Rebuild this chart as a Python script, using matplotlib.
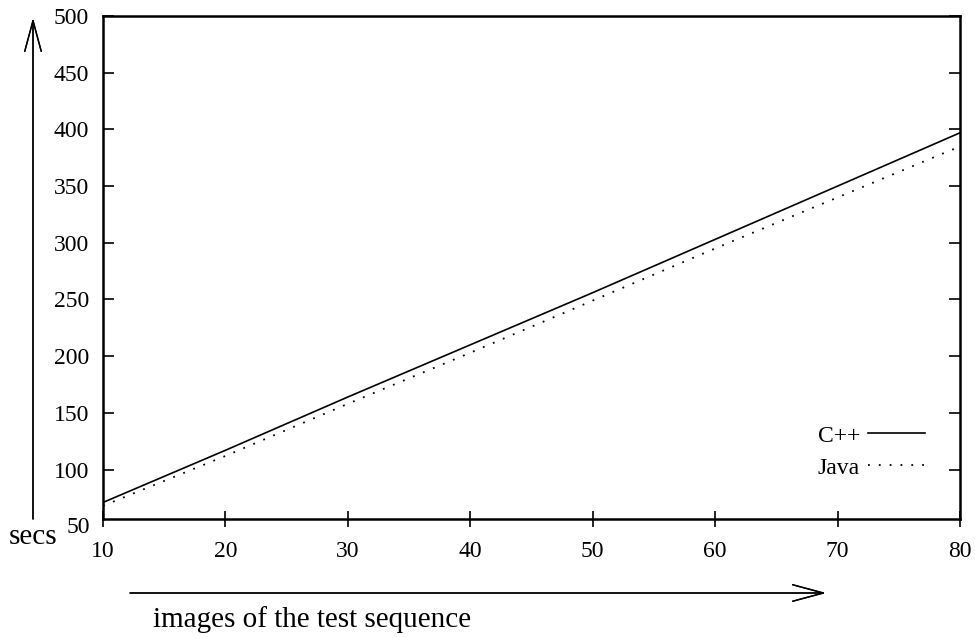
import numpy as np
import matplotlib.pyplot as plt

# images of the test sequence vs. seconds
images = [10, 20, 30, 40, 50, 60, 70, 80]
cpp_secs = [71, 117, 164, 210, 256, 303, 350, 397]
java_secs = [68, 112, 158, 203, 249, 295, 340, 385]

x_ticks = [10, 20, 30, 40, 50, 60, 70, 80]
y_ticks = [100, 150, 200, 250, 300, 350, 400, 450, 500]

plt.rcParams['font.family'] = ['Liberation Serif', 'DejaVu Serif']
plt.rcParams['font.size'] = 17

W, H = 975, 638
fig = plt.figure(figsize=(W / 100, H / 100), dpi=100)
# axes box: left 103, right 960, top 16, bottom 519 (pixels)
ax = fig.add_axes([103 / W, 1 - 519 / H, (960 - 103) / W, (519 - 16) / H])

ax.plot(images, cpp_secs, color='black', lw=1.2, label='C++')
ax.plot(images, java_secs, color='black', lw=1.3, linestyle=(0, (1, 5)), label='Java')

ax.set_xlim(10, 80)
ax.set_ylim(56.4, 500)
ax.set_xticks(x_ticks)
ax.set_yticks(y_ticks)

for s in ax.spines.values():
    s.set_linewidth(1.8)

ax.tick_params(axis='y', direction='in', length=8, width=1.2, left=True, right=True, pad=10)
ax.tick_params(axis='x', direction='inout', length=12, width=1.2, top=False, pad=10)

# "50" label sits just below the axis corner
ax.text(-0.0152, 49, '50', transform=ax.get_yaxis_transform(), ha='right', va='center',
        fontsize=17, clip_on=False)

ax.legend(loc='lower right', bbox_to_anchor=(0.959, 0.08), frameon=False, markerfirst=False,
          borderpad=0, borderaxespad=0, handlelength=2.4, handletextpad=0.35,
          labelspacing=0.45, fontsize=17)

# axis arrows and labels
arrow = dict(arrowstyle='->,head_length=1.3,head_width=0.35', color='black', lw=1.0,
             shrinkA=0, shrinkB=0)
fig.add_artist(plt.annotate('', xy=(33, 620), xytext=(33, 119), xycoords='figure pixels',
                            textcoords='figure pixels', arrowprops=arrow))
fig.text(33, 101, 'secs', transform=None, ha='center', va='center', fontsize=21)
fig.add_artist(plt.annotate('', xy=(826, 45), xytext=(130, 45), xycoords='figure pixels',
                            textcoords='figure pixels', arrowprops=arrow))
fig.text(153, 18, 'images of the test sequence', transform=None, ha='left', va='center',
         fontsize=21)

fig.savefig('out.png', dpi=100)
